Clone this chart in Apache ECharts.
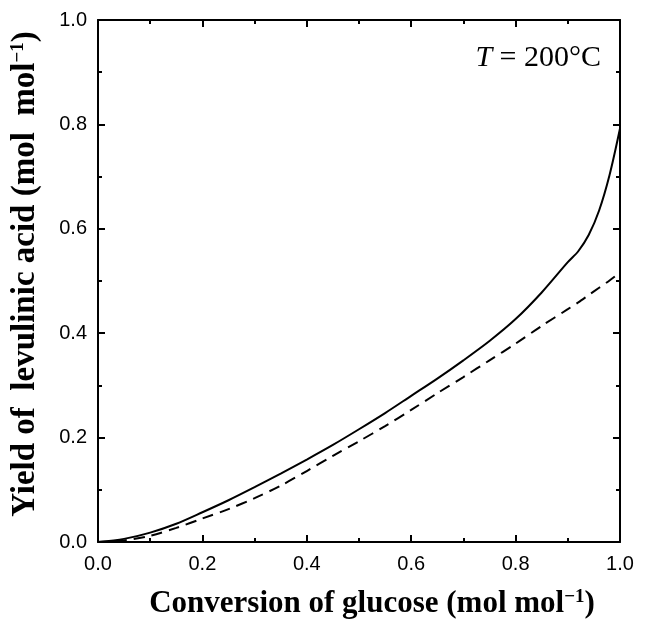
<!DOCTYPE html>
<html>
<head>
<meta charset="utf-8">
<script src="https://cdn.jsdelivr.net/npm/echarts@6/dist/echarts.min.js"></script>
<style>html,body{margin:0;padding:0;background:#fff}#c{width:648px;height:624px}</style>
</head>
<body>
<div id="c"></div>
<script>
// conversion of glucose (x)
const conversion = [0, 0.05, 0.1, 0.15, 0.2, 0.25, 0.3, 0.35, 0.4, 0.45, 0.5, 0.55, 0.6, 0.65, 0.7, 0.75, 0.8, 0.85, 0.9, 0.92, 0.94, 0.96, 0.98, 1.0];
// yield of levulinic acid, solid curve
const yieldSolid = [0, 0.006, 0.018, 0.035, 0.057, 0.080, 0.105, 0.131, 0.158, 0.186, 0.216, 0.247, 0.280, 0.313, 0.348, 0.385, 0.427, 0.478, 0.536, 0.557, 0.588, 0.635, 0.703, 0.792];
// yield of levulinic acid, dashed curve
const yieldDashed = [0, 0.003, 0.012, 0.027, 0.045, 0.063, 0.084, 0.108, 0.136, 0.165, 0.193, 0.222, 0.253, 0.285, 0.316, 0.348, 0.380, 0.414, 0.446, 0.459, 0.473, 0.487, 0.501, 0.516];
const xTicks = [0, 0.2, 0.4, 0.6, 0.8, 1.0];
const yTicks = [0, 0.2, 0.4, 0.6, 0.8, 1.0];

const chart = echarts.init(document.getElementById('c'));
const pair = (xs, ys) => xs.map((x, i) => [x, ys[i]]);
const axisCommon = () => ({
  min: xTicks[0], max: xTicks[xTicks.length - 1], interval: xTicks[1] - xTicks[0],
  axisLine: {show: true, onZero: false, lineStyle: {color: '#000', width: 2}},
  axisTick: {show: true, inside: true, length: 7, lineStyle: {color: '#000', width: 2}},
  minorTick: {show: true, splitNumber: 2, length: 4, lineStyle: {color: '#000', width: 2}},
  splitLine: {show: false}
});
const labelStyle = {color: '#000', fontFamily: 'Liberation Sans, Arial', fontSize: 20,
  formatter: v => v.toFixed(1)};
const nameRich = {
  sup: {fontFamily: 'Liberation Serif', fontWeight: 'bold', fontSize: 19, verticalAlign: 'top', color: '#000', padding: [0, 0, 10, 0]}
};
chart.setOption({
  animation: false,
  grid: {left: 98, right: 28, top: 20, bottom: 81},
  xAxis: [
    Object.assign(axisCommon(), {
      type: 'value', position: 'bottom',
      axisLabel: Object.assign({margin: 12}, labelStyle),
      name: 'Conversion of glucose (mol mol{sup|−1})',
      nameLocation: 'middle', nameGap: 46,
      nameTextStyle: {fontFamily: 'Liberation Serif', fontWeight: 'bold', fontSize: 31, color: '#000',
        padding: [0, 0, 0, 26], rich: nameRich}
    }),
    Object.assign(axisCommon(), {
      type: 'value', position: 'top', axisLabel: {show: false}
    })
  ],
  yAxis: [
    Object.assign(axisCommon(), {
      min: yTicks[0], max: yTicks[yTicks.length - 1], interval: yTicks[1] - yTicks[0],
      type: 'value', position: 'left',
      axisLabel: Object.assign({margin: 11}, labelStyle),
      name: 'Yield of  levulinic acid (mol  mol{sup|−1})',
      nameLocation: 'middle', nameGap: 56,
      nameTextStyle: {fontFamily: 'Liberation Serif', fontWeight: 'bold', fontSize: 33, color: '#000',
        padding: [0, 0, 0, 14], rich: nameRich}
    }),
    Object.assign(axisCommon(), {
      min: yTicks[0], max: yTicks[yTicks.length - 1], interval: yTicks[1] - yTicks[0],
      type: 'value', position: 'right', axisLabel: {show: false}
    })
  ],
  series: [
    {type: 'line', data: pair(conversion, yieldSolid), showSymbol: false, smooth: 0.3,
      lineStyle: {color: '#000', width: 2}},
    {type: 'line', data: pair(conversion, yieldDashed), showSymbol: false, smooth: 0.3,
      lineStyle: {color: '#000', width: 2, type: [11, 7]}}
  ],
  graphic: [{
    type: 'text', right: 47, top: 43,
    style: {
      text: '{i|T} = 200°C',
      rich: {i: {fontStyle: 'italic', fontFamily: 'Liberation Serif', fontSize: 30, fill: '#000'}},
      font: '30px "Liberation Serif"', fill: '#000'
    }
  }]
});
</script>
</body>
</html>
